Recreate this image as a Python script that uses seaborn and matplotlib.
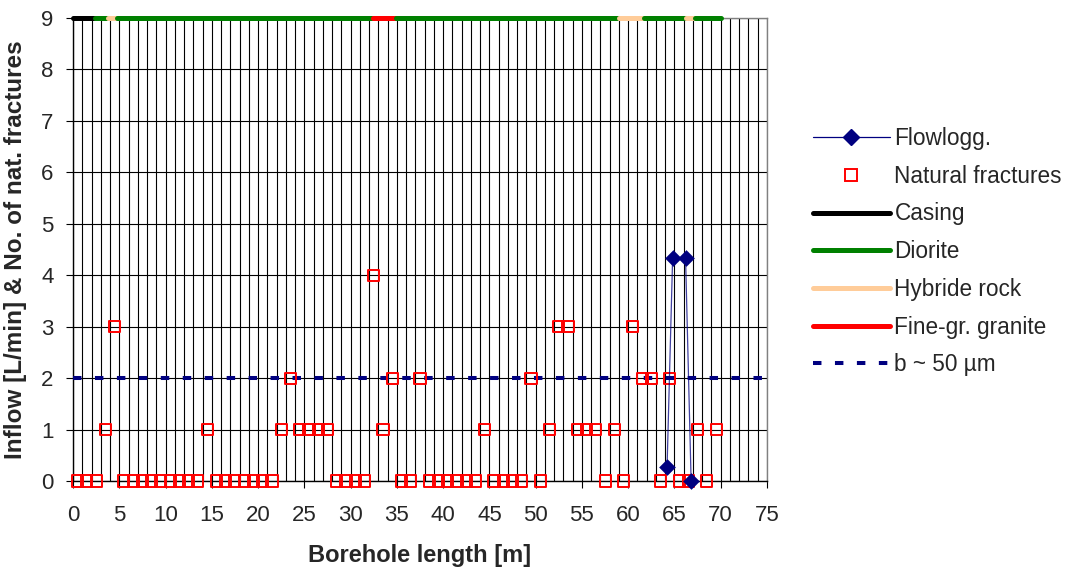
import matplotlib
matplotlib.use("Agg")
import matplotlib.pyplot as plt
from matplotlib.lines import Line2D
from matplotlib.ticker import MultipleLocator
import seaborn as sns

# Natural fractures: section midpoints along the borehole [m] and number of fractures
frac_depth = [0.5, 1.5, 2.5, 3.5, 4.5, 5.5, 6.5, 7.5, 8.5, 9.5,
              10.5, 11.5, 12.5, 13.5, 14.5, 15.5, 16.5, 17.5, 18.5, 19.5,
              20.5, 21.5, 22.5, 23.5, 24.5, 25.5, 26.5, 27.5, 28.5, 29.5,
              30.5, 31.5, 32.5, 33.5, 34.5, 35.5, 36.5, 37.5, 38.5, 39.5,
              40.5, 41.5, 42.5, 43.5, 44.5, 45.5, 46.5, 47.5, 48.5, 49.5,
              50.5, 51.5, 52.5, 53.5, 54.5, 55.5, 56.5, 57.5, 58.5, 59.5,
              60.5, 61.5, 62.5, 63.5, 64.5, 65.5, 66.5, 67.5, 68.5, 69.5]
frac_count = [0, 0, 0, 1, 3, 0, 0, 0, 0, 0,
              0, 0, 0, 0, 1, 0, 0, 0, 0, 0,
              0, 0, 1, 2, 1, 1, 1, 1, 0, 0,
              0, 0, 4, 1, 2, 0, 0, 2, 0, 0,
              0, 0, 0, 0, 1, 0, 0, 0, 0, 2,
              0, 1, 3, 3, 1, 1, 1, 0, 1, 0,
              3, 2, 2, 0, 2, 0, 0, 1, 0, 1]

# Flow logging: inflow [L/min]
flow_depth = [64.2, 64.8, 66.2, 66.8]
flow_inflow = [0.27, 4.33, 4.33, 0.0]

# Geology along the hole, drawn as a band at the top of the plot
rock_start = [0.0, 2.4, 3.8, 4.8, 32.4, 34.9, 59.0, 61.7, 66.3, 67.2]
rock_end = [2.4, 3.8, 4.8, 32.4, 34.9, 59.0, 61.7, 66.3, 67.2, 70.0]
rock_type = ["Casing", "Diorite", "Hybride rock", "Diorite", "Fine-gr. granite",
             "Diorite", "Hybride rock", "Diorite", "Hybride rock", "Diorite"]
rock_names = ["Casing", "Diorite", "Hybride rock", "Fine-gr. granite"]
rock_colors = ["#000000", "#008000", "#FFCC99", "#FF0000"]

# Reference level for an aperture of about 50 µm
b_level = 2.0

x_ticks = list(range(0, 76, 5))
y_ticks = list(range(0, 10))

sns.set_theme(style="white")
plt.rcParams["font.family"] = ["Liberation Sans", "DejaVu Sans"]

NAVY = "#000080"
RED = "#FF0000"

fig = plt.figure(figsize=(10.69, 5.74), dpi=100)
ax = fig.add_axes([73 / 1069, 93 / 574, 694 / 1069, 463 / 574])

ax.set_xlim(0, 75)
ax.set_ylim(0, 9)
ax.set_xticks(x_ticks)
ax.xaxis.set_minor_locator(MultipleLocator(1))
ax.set_yticks(y_ticks)
ax.set_axisbelow(True)
ax.grid(True, which="both", axis="x", color="black", lw=0.8)
ax.grid(True, which="major", axis="y", color="black", lw=0.8)

for side in ["top", "right"]:
    ax.spines[side].set_color("#808080")
    ax.spines[side].set_linewidth(1.0)
for side in ["left", "bottom"]:
    ax.spines[side].set_color("black")
    ax.spines[side].set_linewidth(1.0)

ax.tick_params(axis="x", which="major", direction="out", length=5, width=0.8,
               color="black", labelsize=16, pad=12, bottom=True)
ax.tick_params(axis="x", which="minor", length=0)
ax.tick_params(axis="y", which="major", direction="out", length=5, width=0.8,
               color="black", labelsize=16, pad=9, left=True)

# b ~ 50 µm reference line
ax.axhline(b_level, color=NAVY, lw=2.9, linestyle=(0, (2.1, 3.35)), zorder=3)

# geology band at the top edge
color_of = dict(zip(rock_names, rock_colors))
for s, e, r in zip(rock_start, rock_end, rock_type):
    ax.plot([s, e], [9, 9], color=color_of[r], lw=3.6, solid_capstyle="round",
            clip_on=False, zorder=5)

# natural fractures
sns.scatterplot(x=frac_depth, y=frac_count, marker="s", s=64, color=RED,
                facecolor="none", edgecolor=RED, linewidth=1.4, ax=ax,
                zorder=6, clip_on=False)

# flow logging
sns.lineplot(x=flow_depth, y=flow_inflow, sort=False, estimator=None,
             color=NAVY, lw=0.9, alpha=0.75, ax=ax, zorder=7)
sns.scatterplot(x=flow_depth, y=flow_inflow, marker="D", s=72, color=NAVY,
                edgecolor=NAVY, linewidth=0, ax=ax, zorder=8, clip_on=False)

ax.set_xlabel("Borehole length [m]", fontsize=17, fontweight="bold", labelpad=13)
ax.set_ylabel("Inflow [L/min] & No. of nat. fractures", fontsize=17.5,
              fontweight="bold", labelpad=10)

handles = [
    Line2D([], [], color=NAVY, lw=0.9, marker="D", markersize=8,
           markerfacecolor=NAVY, markeredgecolor=NAVY),
    Line2D([], [], color="none", marker="s", markersize=8,
           markerfacecolor="none", markeredgecolor=RED, markeredgewidth=1.4),
]
labels = ["Flowlogg.", "Natural fractures"]
for name, col in zip(rock_names, rock_colors):
    handles.append(Line2D([], [], color=col, lw=3.6, solid_capstyle="round"))
    labels.append(name)
handles.append(Line2D([], [], color=NAVY, lw=2.9, linestyle=(0, (2.1, 3.35))))
labels.append("b ~ 50 µm")

fig.legend(handles, labels, loc="upper left",
           bbox_to_anchor=(813 / 1069, 1 - 127 / 574),
           frameon=False, fontsize=16.3, handlelength=3.4, handletextpad=0.2,
           labelspacing=0.65, borderpad=0, borderaxespad=0, numpoints=1)

fig.savefig("out.png", dpi=100)
